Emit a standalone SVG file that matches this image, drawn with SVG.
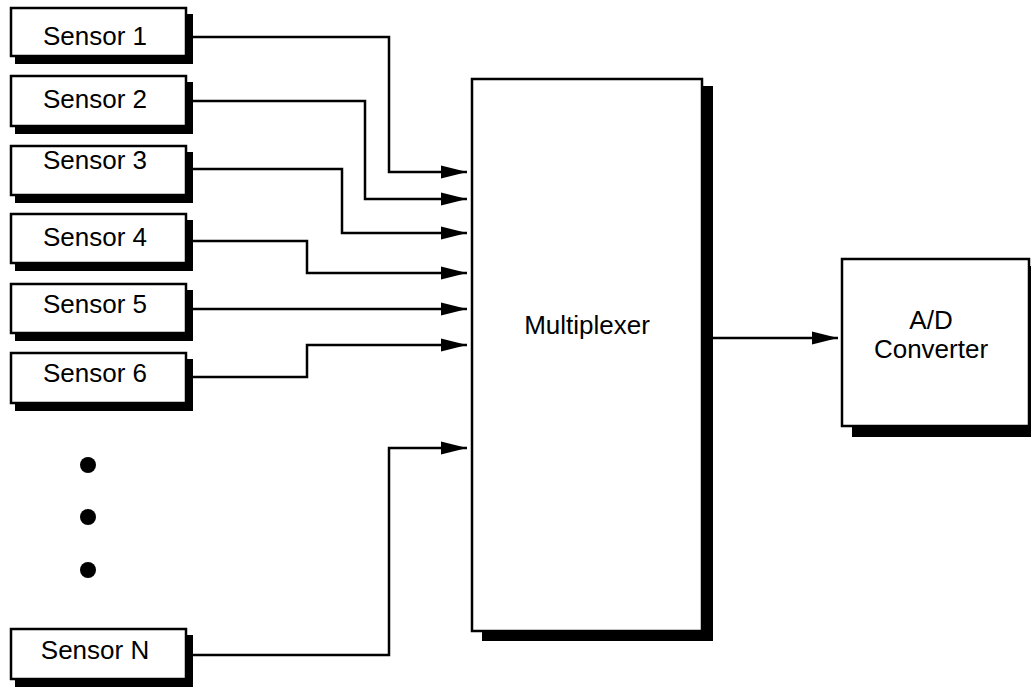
<svg xmlns="http://www.w3.org/2000/svg" width="1031" height="687" viewBox="0 0 1031 687">
<style>
.box{fill:#fff;stroke:#000;stroke-width:2.5}
.sh{fill:#000}
.t{font-family:"Liberation Sans",Arial,sans-serif;font-size:26px;fill:#000;text-anchor:middle}
.ln{fill:none;stroke:#000;stroke-width:2.5}
</style>
<defs>
<marker id="ah" markerUnits="userSpaceOnUse" markerWidth="28" markerHeight="14" refX="26" refY="7" orient="auto">
<path d="M0,0.5 L26,7 L0,13.5 Z" fill="#000"/>
</marker>
</defs>
<g id="connectors">
<path class="ln" d="M193,37 H389 V172 H467" marker-end="url(#ah)"/>
<path class="ln" d="M193,101 H365 V199 H467" marker-end="url(#ah)"/>
<path class="ln" d="M193,169 H342 V233 H467" marker-end="url(#ah)"/>
<path class="ln" d="M184,241 H307 V273 H467" marker-end="url(#ah)"/>
<path class="ln" d="M193,309 H467" marker-end="url(#ah)"/>
<path class="ln" d="M184,377 H307 V345 H467" marker-end="url(#ah)"/>
<path class="ln" d="M193,655 H389 V448 H467" marker-end="url(#ah)"/>
<path class="ln" d="M713,338 H838" marker-end="url(#ah)"/>
</g>
<g id="sensor1"><rect class="sh" x="15" y="14" width="178" height="50"/><rect class="box" x="11" y="8" width="175" height="48"/><text class="t" x="95" y="45">Sensor 1</text></g>
<g id="sensor2"><rect class="sh" x="15" y="82" width="178" height="52"/><rect class="box" x="11" y="76" width="175" height="50"/><text class="t" x="95" y="108">Sensor 2</text></g>
<g id="sensor3"><rect class="sh" x="15" y="152" width="178" height="51"/><rect class="box" x="11" y="146" width="175" height="49"/><text class="t" x="95" y="169">Sensor 3</text></g>
<g id="sensor4"><rect class="sh" x="15" y="220" width="178" height="51"/><rect class="box" x="11" y="214" width="175" height="49"/><text class="t" x="95" y="246">Sensor 4</text></g>
<g id="sensor5"><rect class="sh" x="15" y="290" width="178" height="51"/><rect class="box" x="11" y="284" width="175" height="49"/><text class="t" x="95" y="313">Sensor 5</text></g>
<g id="sensor6"><rect class="sh" x="15" y="359" width="178" height="52"/><rect class="box" x="11" y="353" width="175" height="50"/><text class="t" x="95" y="382">Sensor 6</text></g>
<g id="dots"><circle cx="88" cy="465" r="8"/><circle cx="88" cy="517" r="8"/><circle cx="88" cy="570" r="8"/></g>
<g id="sensorN"><rect class="sh" x="15" y="635" width="178" height="52"/><rect class="box" x="11" y="629" width="175" height="50"/><text class="t" x="95" y="659">Sensor N</text></g>
<g id="multiplexer"><rect class="sh" x="482" y="86" width="231" height="555"/><rect class="box" x="472" y="79" width="230" height="552"/><text class="t" x="587" y="334">Multiplexer</text></g>
<g id="adc"><rect class="sh" x="852" y="266" width="190" height="171"/><rect class="box" x="842" y="259" width="187" height="167"/><text class="t" x="931" y="329">A/D</text><text class="t" x="931" y="358">Converter</text></g>
</svg>
